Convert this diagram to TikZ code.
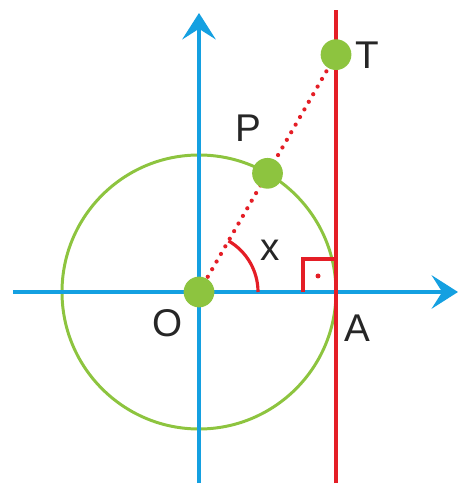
\documentclass[tikz,border=0pt]{standalone}
\usepackage{fontspec}
\setmainfont{Liberation Sans}
\usepackage{xcolor}
\usetikzlibrary{arrows.meta,positioning}
\definecolor{axisblue}{RGB}{20,160,225}
\definecolor{ptgreen}{RGB}{141,196,63}
\definecolor{tanred}{RGB}{228,30,38}
\tikzset{
  axis/.style={axisblue, line width=2.3pt, -{Stealth[length=15pt,width=19pt,inset=6pt]}},
  unitcirc/.style={ptgreen, line width=1.7pt},
  tanline/.style={tanred, line width=2.3pt},
  ray/.style={tanred, line width=2.4pt, line cap=round, dash pattern=on 0pt off 5pt},
  anglemark/.style={tanred, line width=1.8pt},
  dot/.style={circle, fill=ptgreen, inner sep=0pt, minimum size=17.5pt},
  lab/.style={font=\fontsize{22}{25}\selectfont, text=black!85}
}
\begin{document}
\begin{tikzpicture}[scale=0.02]
    \useasboundingbox (-199,-195) rectangle (260,292);
    \coordinate (O) at (0,0);
    \coordinate (A) at (137,0);
    \coordinate (P) at (60:137);
    \coordinate (T) at (137,237.3);
    \draw[unitcirc] (O) circle (137);
    \draw[axis] (-186,0) -- (259,0);
    \draw[axis] (0,-191) -- (0,279);
    \draw[tanline] (137,-191) -- (137,282);
    \draw[ray] (O) -- (T);
    \draw[anglemark] (59,0) arc[start angle=0, end angle=60, radius=59];
    \draw[anglemark] (104,0) -- (104,33) -- (137,33);
    \fill[tanred] (119,16) circle (2.5);
    \node[dot] (o) at (O) {};
    \node[dot] (p) at (P) {};
    \node[dot] (t) at (T) {};
    \node[lab] at (-31,-31) {O};
    \node[lab] at (158,-36) {A};
    \node[lab] at (49,164) {P};
    \node[lab] at (168,237) {T};
    \node[lab] at (71,42) {x};
\end{tikzpicture}
\end{document}
